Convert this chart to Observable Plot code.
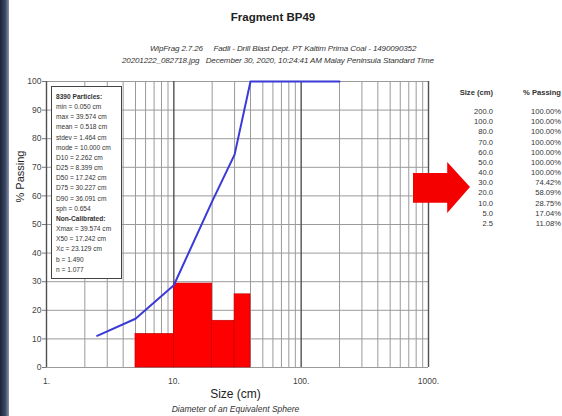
<!DOCTYPE html>
<html>
<head>
<meta charset="utf-8">
<script src="https://cdn.jsdelivr.net/npm/d3@7"></script>
<script src="https://cdn.jsdelivr.net/npm/@observablehq/plot@0.6"></script>
<style>
  html, body { margin: 0; padding: 0; background: #fff; overflow: hidden; }
  #wrap { position: relative; width: 562px; height: 416px; font-family: "Liberation Sans", Arial, sans-serif; color: #222; }
  #head { position: relative; height: 70px; }
  .abs { position: absolute; white-space: pre; }
  #title { left: 0; width: 546px; top: 11px; text-align: center; font-weight: bold; font-size: 11.5px; }
  .sub { font-style: italic; font-size: 8px; color: #333; letter-spacing: -0.12px; }
  #stats { left: 51px; top: 86px; width: 71px; height: 193px; border: 1.5px solid #444; background: #fff; font-size: 6.6px; line-height: 10.15px; padding: 5px 0 0 4px; box-sizing: border-box; color: #333; white-space: nowrap; }
  #tbl { font-size: 7.6px; color: #333; line-height: 10.15px; }
  .col { position: absolute; text-align: right; white-space: nowrap; }
  #arrow { left: 413px; top: 162px; width: 57px; height: 51px; background: #f40000;
           clip-path: polygon(0 21.5%, 60% 21.5%, 60% 0, 100% 49%, 60% 100%, 60% 80%, 0 80%); }
  #strip { left: 0; top: 0; width: 9px; height: 416px; background: linear-gradient(90deg, #1c2333, #3b4a68 60%, #8c96aa); }
</style>
</head>
<body>
<div id="wrap">
  <div id="head">
    <div id="title" class="abs"></div>
    <div id="sub1" class="abs sub" style="left:150px; top:44px;"></div>
    <div id="sub2" class="abs sub" style="left:122px; top:56px;"></div>
  </div>
  <div id="chart"></div>
  <div id="stats" class="abs"></div>
  <div id="tbl" class="abs" style="left:430px; top:88px; width:131px; height:150px;"></div>
  <div id="arrow" class="abs"></div>
  <div id="strip" class="abs"></div>
</div>
<script>
// ---- data ----
const titleText = "Fragment BP49";
const subLine1 = "WipFrag 2.7.26     Fadli - Drill Blast Dept. PT Kaltim Prima Coal - 1490090352";
const subLine2 = "20201222_082718.jpg   December 30, 2020, 10:24:41 AM Malay Peninsula Standard Time";

const sizes   = [2.5, 5, 10, 20, 30, 40, 50, 60, 70, 80, 100, 200];
const passing = [11.08, 17.04, 28.75, 58.09, 74.42, 100, 100, 100, 100, 100, 100, 100];

const binLo  = [5, 10, 20, 30];
const binHi  = [10, 20, 30, 40];
const binPct = [11.71, 29.34, 16.33, 25.58];

const xTickValues = [1, 10, 100, 1000];
const yTickValues = [0, 10, 20, 30, 40, 50, 60, 70, 80, 90, 100];

const statsLines = [
  ["8390 Particles:", true], ["min = 0.050 cm", false], ["max = 39.574 cm", false],
  ["mean = 0.518 cm", false], ["stdev = 1.464 cm", false], ["mode = 10.000 cm", false],
  ["D10 = 2.262 cm", false], ["D25 = 8.399 cm", false], ["D50 = 17.242 cm", false],
  ["D75 = 30.227 cm", false], ["D90 = 36.091 cm", false], ["sph = 0.654", false],
  ["Non-Calibrated:", true], ["Xmax = 39.574 cm", false], ["X50 = 17.242 cm", false],
  ["Xc = 23.129 cm", false], ["b = 1.490", false], ["n = 1.077", false]
];

const tableSizeLabels = ["200.0","100.0","80.0","70.0","60.0","50.0","40.0","30.0","20.0","10.0","5.0","2.5"];
const tablePassLabels = ["100.00%","100.00%","100.00%","100.00%","100.00%","100.00%","100.00%","74.42%","58.09%","28.75%","17.04%","11.08%"];

// ---- build ----
document.getElementById("title").textContent = titleText;
document.getElementById("sub1").textContent = subLine1;
document.getElementById("sub2").textContent = subLine2;

const curve = sizes.map((s, i) => ({size: s, pct: passing[i]}));
const bars = binLo.map((lo, i) => ({lo, hi: binHi[i], pct: binPct[i]}));

const minorTicks = [];
for (const dec of [1, 10, 100]) for (let k = 2; k <= 9; k++) minorTicks.push(dec * k);

const chart = Plot.plot({
  width: 562,
  height: 346,
  marginTop: 11,
  marginBottom: 49,
  marginLeft: 46,
  marginRight: 134,
  style: {fontFamily: "Liberation Sans, Arial, sans-serif", background: "#fff"},
  x: {type: "log", domain: [1, 1000]},
  y: {domain: [0, 100]},
  marks: [
    Plot.gridX(minorTicks, {stroke: "#9a9a9a", strokeOpacity: 1, strokeWidth: 1}),
    Plot.gridY(yTickValues, {stroke: "#9a9a9a", strokeOpacity: 1, strokeWidth: 1}),
    Plot.gridX(xTickValues, {stroke: "#505050", strokeOpacity: 1, strokeWidth: 1.4}),
    Plot.rectY(bars, {x1: "lo", x2: "hi", y: "pct", fill: "#ff0000", stroke: "#c40000", strokeWidth: 0.7}),
    Plot.line(curve, {x: "size", y: "pct", stroke: "#3a3ad8", strokeWidth: 2}),
    Plot.axisY({ticks: yTickValues, tickSize: 4, tickPadding: 1, stroke: "#777", fontSize: 8.5, fill: "#444", label: null}),
    Plot.axisX({ticks: xTickValues, tickFormat: d => d + ".", tickSize: 0, tickPadding: 10, fontSize: 8.5, fill: "#444", label: null}),
    Plot.text(["Size (cm)"], {frameAnchor: "bottom", dy: 30, fontSize: 12, fill: "#222", dx: -2}),
    Plot.text(["Diameter of an Equivalent Sphere"], {frameAnchor: "bottom", dy: 44, fontSize: 8.5, fontStyle: "italic", fill: "#333", dx: -2}),
    Plot.text(["% Passing"], {frameAnchor: "left", dx: -26, dy: -22, rotate: -90, fontSize: 11, fill: "#222"})
  ]
});
document.getElementById("chart").appendChild(chart);

// stats box
const st = document.getElementById("stats");
statsLines.forEach(([t, b]) => {
  const d = document.createElement("div");
  d.textContent = t;
  if (b) d.style.fontWeight = "bold";
  st.appendChild(d);
});

// table
const tbl = document.getElementById("tbl");
function col(rightPx, header, labels) {
  const c = document.createElement("div");
  c.className = "col";
  c.style.right = rightPx + "px";
  c.style.top = "0px";
  const h = document.createElement("div");
  h.textContent = header; h.style.fontWeight = "bold"; h.style.marginBottom = "9px";
  c.appendChild(h);
  labels.forEach(l => { const r = document.createElement("div"); r.textContent = l; c.appendChild(r); });
  tbl.appendChild(c);
}
col(131 - 63, "Size (cm)", tableSizeLabels);
col(0, "% Passing", tablePassLabels);
</script>
</body>
</html>
